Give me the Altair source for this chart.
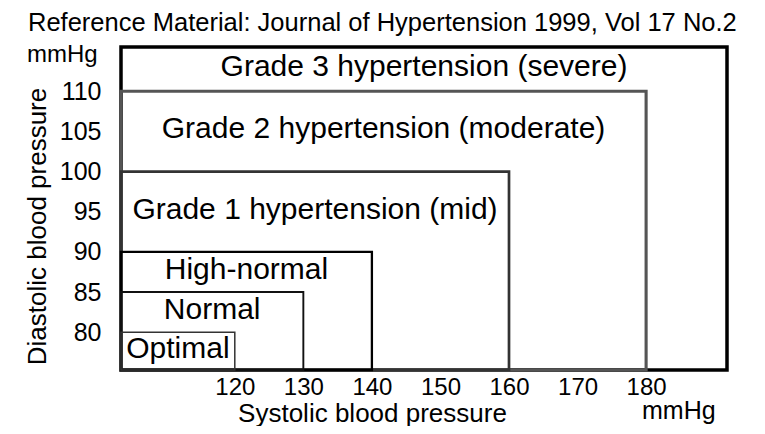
import altair as alt
import pandas as pd

# ---- data ----
categories = [
    "Grade 3 hypertension (severe)",
    "Grade 2 hypertension (moderate)",
    "Grade 1 hypertension (mid)",
    "High-normal",
    "Normal",
    "Optimal",
]
systolic_upper = [None, 180, 160, 140, 130, 120]   # mmHg (None = open-ended)
diastolic_upper = [None, 110, 100, 90, 85, 80]     # mmHg (None = open-ended)
x_ticks = [120, 130, 140, 150, 160, 170, 180]
y_ticks = [80, 85, 90, 95, 100, 105, 110]
title_text = "Reference Material: Journal of Hypertension 1999, Vol 17 No.2"
x_title = "Systolic blood pressure"
y_title = "Diastolic blood pressure"
unit = "mmHg"

# axis extents
X_MIN, X_MAX = 103.4, 191.8
Y_MIN, Y_MAX = 75.3, 115.5

# ---- styles (kept apart from data) ----
stroke_colors = ["#000000", "#555555", "#333333", "#000000", "#111111", "#333333"]
stroke_widths = [3.5, 1.5, 1.5, 2.5, 2.0, 1.2]
FONT = "Liberation Sans"

rows = []
for i, cat in enumerate(categories):
    x2 = systolic_upper[i] if systolic_upper[i] is not None else X_MAX
    y2 = diastolic_upper[i] if diastolic_upper[i] is not None else Y_MAX
    lower = diastolic_upper[i + 1] if i + 1 < len(categories) else Y_MIN
    rows.append({
        "cat": cat, "x": X_MIN, "x2": x2, "y": Y_MIN, "y2": y2,
        "lx": (X_MIN + x2) / 2, "ly": (lower + y2) / 2,
    })
df = pd.DataFrame(rows)

xs = alt.Scale(domain=[X_MIN, X_MAX], nice=False, zero=False)
ys = alt.Scale(domain=[Y_MIN, Y_MAX], nice=False, zero=False)

x_axis = alt.Axis(
    values=x_ticks, ticks=False, domain=False, grid=False,
    labelFont=FONT, labelFontSize=24, labelPadding=5, labelColor="black",
    title=x_title, titleFont=FONT, titleFontSize=26, titleFontWeight="normal",
    titleColor="black", titleX=251, titleY=51, titleAlign="center",
    titleBaseline="alphabetic",
)
y_axis = alt.Axis(
    values=y_ticks, ticks=False, domain=False, grid=False,
    labelFont=FONT, labelFontSize=25, labelPadding=20, labelColor="black",
    title=y_title, titleFont=FONT, titleFontSize=26, titleFontWeight="normal",
    titleColor="black", titleAngle=270, titleX=-84, titleY=179,
    titleAlign="center", titleBaseline="middle",
)

boxes = alt.Chart(df).mark_rect(fill="white", fillOpacity=0).encode(
    x=alt.X("x:Q", scale=xs, axis=x_axis),
    x2="x2:Q",
    y=alt.Y("y:Q", scale=ys, axis=y_axis),
    y2="y2:Q",
    stroke=alt.Stroke("cat:N", scale=alt.Scale(domain=categories, range=stroke_colors), legend=None),
    strokeWidth=alt.StrokeWidth("cat:N", scale=alt.Scale(domain=categories, range=stroke_widths), legend=None),
)

labels = alt.Chart(df).mark_text(
    font=FONT, fontSize=30, align="center", baseline="middle", color="black", dy=-2
).encode(
    x=alt.X("lx:Q", scale=xs),
    y=alt.Y("ly:Q", scale=ys),
    text="cat:N",
)

ann = pd.DataFrame({"t": [unit]})
y_unit = alt.Chart(ann).mark_text(
    font=FONT, fontSize=24, align="left", baseline="alphabetic", color="black", x=-94, y=15
).encode(text="t:N")
x_unit = alt.Chart(ann).mark_text(
    font=FONT, fontSize=25, align="left", baseline="alphabetic", color="black", x=521, y=372
).encode(text="t:N")
title = alt.Chart(pd.DataFrame({"t": [title_text]})).mark_text(
    font=FONT, fontSize=25.5, align="left", baseline="alphabetic", color="black", x=-93, y=-16
).encode(text="t:N")

chart = alt.layer(boxes, labels, y_unit, x_unit, title).properties(
    width=606, height=323,
    autosize=alt.AutoSizeParams(type="none"),
    padding={"left": 113, "top": 39, "right": 30, "bottom": 56},
).configure_view(stroke=None).configure(background="white")

chart.save("out.html", embed_options={"renderer": "svg", "actions": False})
